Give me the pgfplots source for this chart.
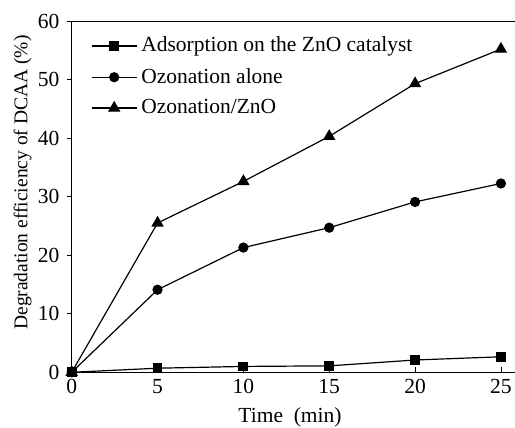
\documentclass[border=0pt]{standalone}
\usepackage{pgfplots}
\pgfplotsset{compat=1.18}
\usepackage{fontspec}
\setmainfont{Liberation Serif}
\begin{document}
\fontsize{21.5}{25}\selectfont
\begin{tikzpicture}
\begin{axis}[
  name=ax,
  scale only axis,
  width=446.4pt, height=351.3pt,
  xmin=0, xmax=26, ymin=0, ymax=60,
  xtick={0,5,10,15,20,25},
  ytick={0,10,20,30,40,50,60},
  x tick style={black, line width=0.8pt},
  y tick style={black, line width=0.8pt},
  xtick align=inside, ytick align=outside,
  xtick pos=bottom, ytick pos=left,
  major tick length=5pt,
  axis line style={line width=0.9pt},
  /pgf/number format/assume math mode=true,
  ticklabel style={font=\fontsize{21.5}{25}\selectfont},
  xlabel style={font=\fontsize{21.5}{25}\selectfont},
  ylabel style={font=\fontsize{19.5}{23}\selectfont},
  xlabel={Time~~(min)},
  ylabel={Degradation efficiency of DCAA (\%)},
  xlabel style={at={(axis description cs:0.489,-0.128)}, anchor=center},
  ylabel style={at={(axis description cs:-0.110,0.540)}, anchor=center},
  legend cell align=left,
  legend style={at={(axis description cs:0.043,0.955)}, anchor=north west, draw=none, fill=none,
    font=\fontsize{21.5}{25}\selectfont, row sep=13pt, inner sep=0pt, nodes={inner xsep=4pt, inner ysep=0pt}},
  legend image code/.code={\draw[mark repeat=2,mark phase=2,#1] plot coordinates {(0pt,0pt) (22.5pt,0pt) (45pt,0pt)};},
  every axis plot/.append style={black, line width=1.2pt, mark options={solid, fill=black}},
]
\addplot[mark=square*, mark size=4.3pt] coordinates {(0,0) (5,0.7) (10,1.0) (15,1.1) (20,2.1) (25,2.65)};
\addlegendentry{Adsorption on the ZnO catalyst}
\addplot[mark=*, mark size=4.5pt] coordinates {(0,0) (5,14.1) (10,21.3) (15,24.7) (20,29.1) (25,32.25)};
\addlegendentry{Ozonation alone}
\addplot[mark=triangle*, mark size=6pt] coordinates {(0,0) (5,25.5) (10,32.6) (15,40.3) (20,49.3) (25,55.2)};
\addlegendentry{Ozonation/ZnO}
\end{axis}
\pgfresetboundingbox
\path[use as bounding box] ([xshift=-71.7pt,yshift=-55.7pt]ax.south west) rectangle ([xshift=443.3pt,yshift=372.3pt]ax.south west);
\end{tikzpicture}
\end{document}
